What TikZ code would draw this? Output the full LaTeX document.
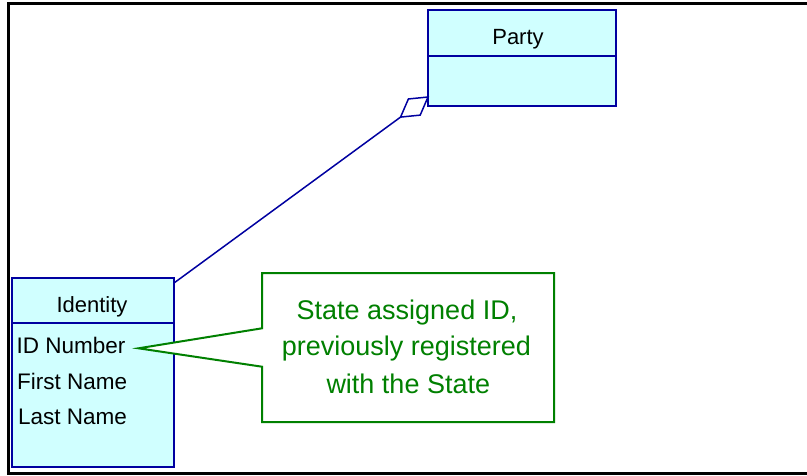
\documentclass[tikz,border=0pt]{standalone}
\usepackage{fontspec}
\setmainfont{Liberation Sans}
\usetikzlibrary{calc}
\definecolor{umlblue}{RGB}{0,0,160}
\definecolor{umlfill}{RGB}{208,255,255}
\definecolor{notegreen}{RGB}{0,128,0}
\begin{document}
\begin{tikzpicture}[x=1pt,y=-1pt,
  classbox/.style={draw=umlblue, fill=umlfill, line width=2pt, inner sep=0pt, outer sep=0pt},
  classname/.style={font=\fontsize{22}{26}\selectfont, anchor=base, inner sep=0pt},
  attr/.style={font=\fontsize{22.5}{26}\selectfont, anchor=base west, inner sep=0pt},
  notetxt/.style={font=\fontsize{27}{37}\selectfont, text=notegreen, anchor=base, inner sep=0pt},
  notebox/.style={draw=notegreen, fill=white, line width=2pt, line join=miter},
  assoc/.style={draw=umlblue, line width=1.5pt, line join=miter},
  frame/.style={draw=black, line width=2.2pt}]
\useasboundingbox (0,0) rectangle (807,475);

% outer frame
\draw[frame] (812,3.5) -- (8.5,3.5) -- (8.5,473.5) -- (812,473.5);

% class Identity
\node[classbox, minimum width=162pt, minimum height=45pt] (idhead) at (93,300.5) {};
\node[classbox, minimum width=162pt, minimum height=144pt, anchor=north] (idbody) at (idhead.south) {};
\node[classname] (idname) at (92,312.3) {Identity};
\node[attr] (a1) at (16.5,353.7) {ID Number};
\node[attr] (a2) at (17,389.3) {First Name};
\node[attr] (a3) at (18,424) {Last Name};

% class Party
\node[classbox, minimum width=188pt, minimum height=46pt] (partyhead) at (522,33) {};
\node[classbox, minimum width=188pt, minimum height=50pt, anchor=north] (partybody) at (partyhead.south) {};
\node[classname] (partyname) at (518,44.3) {Party};

% aggregation from Identity to Party
\coordinate (src) at ($(idhead.north east)+(0,5)$);
\coordinate (dtip) at ($(partybody.south west)+(0,-9)$);
\coordinate (dfar) at ($(dtip)!34pt!(src)$);
\coordinate (dmid) at ($(dtip)!17pt!(src)$);
\coordinate (dside1) at ($(dmid)!10pt!90:(src)$);
\coordinate (dside2) at ($(dmid)!10pt!-90:(src)$);
\draw[assoc] (src) -- (dfar);
\draw[assoc, fill=white] (dtip) -- (dside1) -- (dfar) -- (dside2) -- cycle;

% note callout
\node[minimum width=292pt, minimum height=149pt, inner sep=0pt, outer sep=0pt] (note) at (408,347.5) {};
\coordinate (tip) at (138.5,348.3);
\draw[notebox] (note.north west) -- (note.north east) -- (note.south east) -- (note.south west)
  -- ($(note.north west)+(0,93.7)$) -- (tip) -- ($(note.north west)+(0,55.3)$) -- cycle;
\node[notetxt] (n1) at (407,319.3) {State assigned ID,};
\node[notetxt] (n2) at (406.5,355.7) {previously registered};
\node[notetxt] (n3) at (408.3,393.3) {with the State};
\end{tikzpicture}
\end{document}
